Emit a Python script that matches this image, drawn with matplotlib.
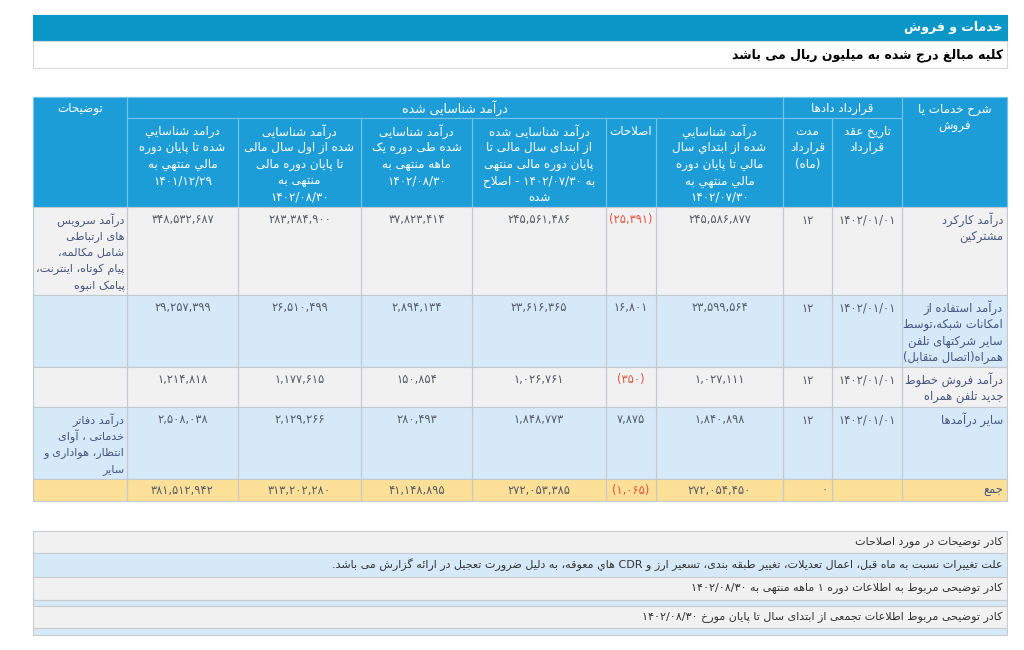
import matplotlib
matplotlib.use('Agg')
import matplotlib.pyplot as plt
from matplotlib.patches import Rectangle

plt.rcParams['font.family'] = ['DejaVu Sans']

# ---------------- data ----------------
title = 'خدمات و فروش'
subtitle = 'کلیه مبالغ درج شده به میلیون ریال می باشد'

group_contracts = 'قرارداد دادها'
group_revenue = 'درآمد شناسایی شده'
head_desc = ['شرح خدمات یا', 'فروش']
head_notes = ['توضیحات']
sub_heads = [
    ['تاریخ عقد', 'قرارداد'],
    ['مدت', 'قرارداد', '(ماه)'],
    ['درآمد شناسايي', 'شده از ابتداي سال', 'مالي تا پايان دوره', 'مالي منتهي به', '1402/07/30'],
    ['اصلاحات'],
    ['درآمد شناسایی شده', 'از ابتدای سال مالی تا', 'پایان دوره مالی منتهی', 'به 1402/07/30 - اصلاح', 'شده'],
    ['درآمد شناسایی', 'شده طی دوره یک', 'ماهه منتهی به', '1402/08/30'],
    ['درآمد شناسایی', 'شده از اول سال مالی', 'تا پایان دوره مالی', 'منتهی به', '1402/08/30'],
    ['درامد شناسايي', 'شده تا پايان دوره', 'مالي منتهي به', '1401/12/29'],
]

row_labels = [
    ['درآمد کارکرد', 'مشترکین'],
    ['درآمد استفاده از', 'امکانات شبکه،توسط', 'سایر شرکتهای تلفن', 'همراه(اتصال متقابل)'],
    ['درآمد فروش خطوط', 'جدید تلفن همراه'],
    ['سایر درآمدها'],
]
row_notes = [
    ['درآمد سرویس', 'های ارتباطی', 'شامل مکالمه،', 'پیام کوتاه، اینترنت،', 'پیامک انبوه'],
    [],
    [],
    ['درآمد دفاتر', 'خدماتی ، آوای', 'انتظار، هواداری و', 'سایر'],
]
total_label = 'جمع'

contract_dates = ['1402/01/01', '1402/01/01', '1402/01/01', '1402/01/01']
contract_months = [12, 12, 12, 12]
rev_cum_0730 = [245586877, 23599564, 1027111, 1840898]
corrections = [-25391, 16801, -350, 7875]
rev_corrected_0730 = [245561486, 23616365, 1026761, 1848773]
rev_month_0830 = [37823414, 2894134, 150854, 280493]
rev_cum_0830 = [283384900, 26510499, 1177615, 2129266]
rev_cum_14011229 = [348532687, 29257399, 1214818, 2508038]

total_months = 0
totals = [272054450, -1065, 272053385, 41148895, 313202280, 381512942]

note_lines = [
    'کادر توضیحات در مورد اصلاحات',
    'علت تغییرات نسبت به ماه قبل، اعمال تعدیلات، تغییر طبقه بندی، تسعیر ارز و CDR هاي معوقه، به دلیل ضرورت تعجیل در ارائه گزارش می باشد.',
    'کادر توضیحی مربوط به اطلاعات دوره 1 ماهه منتهی به 1402/08/30',
    '',
    'کادر توضیحی مربوط اطلاعات تجمعی از ابتدای سال تا پایان مورخ 1402/08/30',
    '',
]

# ---------------- persian text helpers ----------------
# presentation forms: isolated, final, initial, medial
FORMS = {}
_seq = [('\u0621', 1), ('\u0622', 2), ('\u0623', 2), ('\u0624', 2), ('\u0625', 2),
        ('\u0626', 4), ('\u0627', 2), ('\u0628', 4), ('\u0629', 2), ('\u062A', 4),
        ('\u062B', 4), ('\u062C', 4), ('\u062D', 4), ('\u062E', 4), ('\u062F', 2),
        ('\u0630', 2), ('\u0631', 2), ('\u0632', 2), ('\u0633', 4), ('\u0634', 4),
        ('\u0635', 4), ('\u0636', 4), ('\u0637', 4), ('\u0638', 4), ('\u0639', 4),
        ('\u063A', 4), ('\u0641', 4), ('\u0642', 4), ('\u0643', 4), ('\u0644', 4),
        ('\u0645', 4), ('\u0646', 4), ('\u0647', 4), ('\u0648', 2), ('\u0649', 2),
        ('\u064A', 4)]
code = 0xFE80
for ch, k in _seq:
    f = list(range(code, code + k)) + [None] * (4 - k)
    FORMS[ch] = tuple(f)
    code += k
for ch, base, k in [('\u067E', 0xFB56, 4), ('\u0686', 0xFB7A, 4), ('\u0698', 0xFB8A, 2),
                    ('\u06A9', 0xFB8E, 4), ('\u06AF', 0xFB92, 4), ('\u06CC', 0xFBFC, 4)]:
    FORMS[ch] = tuple(list(range(base, base + k)) + [None] * (4 - k))
LAM_ALEF = {'\u0622': 0xFEF5, '\u0623': 0xFEF7, '\u0625': 0xFEF9, '\u0627': 0xFEFB}
FA_DIGITS = str.maketrans('0123456789', '۰۱۲۳۴۵۶۷۸۹')


def shape(s):
    out = []
    i = 0
    n = len(s)
    while i < n:
        ch = s[i]
        if ch not in FORMS:
            if ch != '\u200c':
                out.append(ch)
            i += 1
            continue
        prev = s[i - 1] if i > 0 else None
        joins_prev = prev in FORMS and FORMS[prev][2] is not None and FORMS[ch][1] is not None
        if ch == '\u0644' and i + 1 < n and s[i + 1] in LAM_ALEF:
            base = LAM_ALEF[s[i + 1]]
            out.append(chr(base + 1 if joins_prev else base))
            i += 2
            continue
        nxt = s[i + 1] if i + 1 < n else None
        joins_next = FORMS[ch][2] is not None and nxt in FORMS and FORMS[nxt][1] is not None
        iso, fin, ini, med = FORMS[ch]
        if joins_prev and joins_next:
            c = med
        elif joins_prev:
            c = fin
        elif joins_next:
            c = ini
        else:
            c = iso
        out.append(chr(c))
        i += 1
    return ''.join(out)


def is_ltr(c):
    return (c.isascii() and c.isalnum()) or '\u06F0' <= c <= '\u06F9'


def fa(s):
    # shape the letters, then lay the line out right to left (digit runs stay ltr)
    s = shape(s.translate(FA_DIGITS))
    runs = []
    n = len(s)
    for k, c in enumerate(s):
        t = is_ltr(c) or (c in '/,.:' and 0 < k < n - 1 and is_ltr(s[k - 1]) and is_ltr(s[k + 1]))
        if runs and runs[-1][0] == t:
            runs[-1][1].append(c)
        else:
            runs.append((t, [c]))
    mirror = {'(': ')', ')': '('}
    res = []
    for t, chars in reversed(runs):
        if t:
            res.append(''.join(chars))
        else:
            res.append(''.join(mirror.get(c, c) for c in reversed(chars)))
    return ''.join(res)


def fmt(v):
    if v < 0:
        return '(' + f'{-v:,}'.translate(FA_DIGITS) + ')'
    return f'{v:,}'.translate(FA_DIGITS)


# ---------------- figure ----------------
fig = plt.figure(figsize=(10.24, 6.5), dpi=100)
ax = fig.add_axes([0, 0, 1, 1])
ax.set_xlim(0, 1024)
ax.set_ylim(650, 0)
ax.axis('off')

HEAD_BLUE = '#1d9dd8'
HEAD_LINE = '#74c3e9'
GRAY = '#f1f1f1'
BLUE = '#d6e9f8'
YELLOW = '#fde097'
GRID = '#c4c9cf'
NUM_COLOR = '#555a66'
LABEL_COLOR = '#46567f'
RED = '#e5533d'
FS = 8.3
STEP = 16.5


def box(x0, x1, y0, y1, fc, ec, lw=0.8):
    ax.add_patch(Rectangle((x0, y0), x1 - x0, y1 - y0, facecolor=fc, edgecolor=ec, lw=lw))


def lines(x, y, items, ha='center', color='white', fs=FS, weight='normal'):
    for k, t in enumerate(items):
        ax.text(x, y + k * STEP, fa(t), ha=ha, va='center', fontsize=fs,
                color=color, fontweight=weight)


# title + subtitle
box(33, 1007, 15, 41, '#0b96c8', '#0b96c8')
ax.text(1003, 28, fa(title), ha='right', va='center', fontsize=9, color='white', fontweight='bold')
box(33, 1007, 41, 68, 'white', '#d8d8d8')
ax.text(1003, 55, fa(subtitle), ha='right', va='center', fontsize=9, color='black', fontweight='bold')

# columns (right to left)
xe = [1007, 902, 832, 783, 656, 606, 472, 361, 238, 127, 33]
H0, H1, H2 = 97, 118, 207

# header
box(33, 1007, H0, H2, HEAD_BLUE, HEAD_LINE)
box(xe[1], xe[0], H0, H2, HEAD_BLUE, HEAD_LINE)
box(xe[3], xe[1], H0, H1, HEAD_BLUE, HEAD_LINE)
box(xe[9], xe[3], H0, H1, HEAD_BLUE, HEAD_LINE)
box(xe[10], xe[9], H0, H2, HEAD_BLUE, HEAD_LINE)
for c in range(1, 9):
    box(xe[c + 1], xe[c], H1, H2, HEAD_BLUE, HEAD_LINE)

lines((xe[0] + xe[1]) / 2, 110, head_desc, fs=8.6)
lines((xe[1] + xe[3]) / 2, 108.5, [group_contracts], fs=8.6)
lines((xe[3] + xe[9]) / 2, 108.5, [group_revenue], fs=9)
lines((xe[9] + xe[10]) / 2, 108.5, head_notes, fs=8.6)
for c, items in enumerate(sub_heads, start=1):
    lines((xe[c] + xe[c + 1]) / 2, 131.5, items, fs=8.6)

# body
row_y = [207, 295, 367, 407, 479]
fills = [GRAY, BLUE, GRAY, BLUE]
value_cols = [rev_cum_0730, corrections, rev_corrected_0730, rev_month_0830,
              rev_cum_0830, rev_cum_14011229]
for r in range(4):
    y0, y1 = row_y[r], row_y[r + 1]
    for c in range(10):
        box(xe[c + 1], xe[c], y0, y1, fills[r], GRID)
    ty = y0 + 13
    lines(xe[0] - 4, ty, row_labels[r], ha='right', color=LABEL_COLOR)
    lines((xe[1] + xe[2]) / 2, ty, [contract_dates[r]], color=NUM_COLOR)
    lines((xe[2] + xe[3]) / 2, ty, [str(contract_months[r])], color=NUM_COLOR)
    for k, vals in enumerate(value_cols):
        c = 3 + k
        v = vals[r]
        ax.text((xe[c] + xe[c + 1]) / 2, ty, fmt(v), ha='center', va='center',
                fontsize=FS, color=RED if v < 0 else NUM_COLOR)
    lines(xe[9] - 2.5, ty, row_notes[r], ha='right', color=LABEL_COLOR, fs=8.1)

# total row
y0, y1 = 479, 501
for c in range(10):
    box(xe[c + 1], xe[c], y0, y1, YELLOW, GRID)
ty = 490.5
lines(xe[0] - 4, ty, [total_label], ha='right', color=LABEL_COLOR)
ax.text(xe[2] - 4, ty, str(total_months).translate(FA_DIGITS), ha='right', va='center',
        fontsize=FS, color=NUM_COLOR)
for k, v in enumerate(totals):
    c = 3 + k
    ax.text((xe[c] + xe[c + 1]) / 2, ty, fmt(v), ha='center', va='center',
            fontsize=FS, color=RED if v < 0 else NUM_COLOR)

# notes box
note_y = [531, 553, 577, 600, 606, 628, 635]
note_fill = [GRAY, BLUE, GRAY, BLUE, GRAY, BLUE]
for k, t in enumerate(note_lines):
    y0, y1 = note_y[k], note_y[k + 1]
    box(33, 1007, y0, y1, note_fill[k], '#c8ccd0')
    if t:
        ax.text(1003, (y0 + y1) / 2, fa(t), ha='right', va='center', fontsize=8, color='#333333')

fig.savefig('out.png', dpi=100, facecolor='white')
